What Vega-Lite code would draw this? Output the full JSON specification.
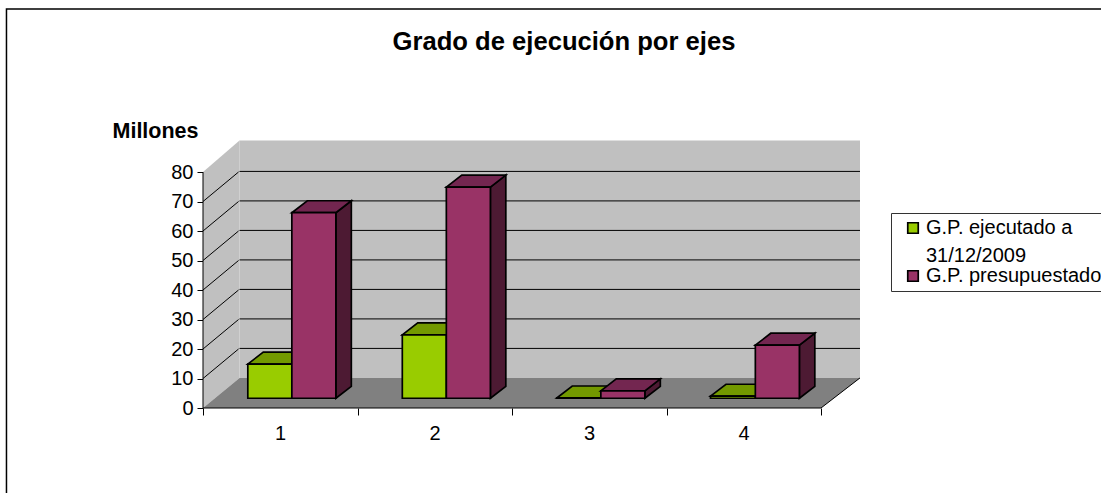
{
"$schema":"https://vega.github.io/schema/vega-lite/v6.json",
"width":657,"height":268,
"autosize":{"type":"none"},
"padding":{"left":203,"top":140,"right":241,"bottom":85},
"background":"white",
"view":{"stroke":null},
"title":{"text":"Grado de ejecución por ejes","font":"Liberation Sans","fontSize":25.6,"fontWeight":"bold","color":"black","anchor":"middle","frame":"group","dx":32.5,"offset":-47},
"datasets":{
"marco":[{"x":-0.772,"x2":7,"y":135.25,"y2":-60}],
"paredes":[
{"id":"fondo","x":0.7362,"y":10.2,"y2":90.7},{"id":"fondo","x":4.7524,"y":10.2,"y2":90.7},
{"id":"lateral","x":0.5,"y":0,"y2":80},{"id":"lateral","x":0.7362,"y":10.2,"y2":90.7}],
"suelo":[{"x":0.5,"y":0,"y2":0},{"x":0.7362,"y":0,"y2":10.2},{"x":4.5,"y":0,"y2":10.2},{"x":4.7524,"y":10.2,"y2":10.2}],
"lineas":[
{"id":"f70","x":0.7362,"y":80.2},{"id":"f70","x":4.7524,"y":80.2},
{"id":"f60","x":0.7362,"y":70.2},{"id":"f60","x":4.7524,"y":70.2},
{"id":"f50","x":0.7362,"y":60.2},{"id":"f50","x":4.7524,"y":60.2},
{"id":"f40","x":0.7362,"y":50.2},{"id":"f40","x":4.7524,"y":50.2},
{"id":"f30","x":0.7362,"y":40.2},{"id":"f30","x":4.7524,"y":40.2},
{"id":"f20","x":0.7362,"y":30.2},{"id":"f20","x":4.7524,"y":30.2},
{"id":"f10","x":0.7362,"y":20.2},{"id":"f10","x":4.7524,"y":20.2},
{"id":"d70","x":0.5,"y":70},{"id":"d70","x":0.73,"y":80},
{"id":"d60","x":0.5,"y":60},{"id":"d60","x":0.73,"y":70},
{"id":"d50","x":0.5,"y":50},{"id":"d50","x":0.73,"y":60},
{"id":"d40","x":0.5,"y":40},{"id":"d40","x":0.73,"y":50},
{"id":"d30","x":0.5,"y":30},{"id":"d30","x":0.73,"y":40},
{"id":"d20","x":0.5,"y":20},{"id":"d20","x":0.73,"y":30},
{"id":"d10","x":0.5,"y":10},{"id":"d10","x":0.73,"y":20},
{"id":"eje","x":0.5,"y":0},{"id":"eje","x":0.5,"y":80},
{"id":"base","x":0.5,"y":0},{"id":"base","x":4.5,"y":0},
{"id":"borde","x":4.5,"y":0},{"id":"borde","x":4.7524,"y":10.2}],
"verdeSup":[
{"id":1,"x":0.79,"y":14.9,"y2":14.9},{"id":1,"x":0.89,"y":14.9,"y2":18.95},{"id":1,"x":1.075,"y":14.9,"y2":18.95},{"id":1,"x":1.175,"y":18.95,"y2":18.95},
{"id":2,"x":1.79,"y":24.8,"y2":24.8},{"id":2,"x":1.89,"y":24.8,"y2":28.85},{"id":2,"x":2.075,"y":24.8,"y2":28.85},{"id":2,"x":2.175,"y":28.85,"y2":28.85},
{"id":3,"x":2.79,"y":3.4,"y2":3.4},{"id":3,"x":2.89,"y":3.4,"y2":7.45},{"id":3,"x":3.075,"y":3.4,"y2":7.45},{"id":3,"x":3.175,"y":7.45,"y2":7.45},
{"id":4,"x":3.785,"y":4.0,"y2":4.0},{"id":4,"x":3.885,"y":4.0,"y2":8.05},{"id":4,"x":4.075,"y":4.0,"y2":8.05},{"id":4,"x":4.175,"y":8.05,"y2":8.05}],
"moradoSup":[
{"id":1,"x":1.075,"y":66.2,"y2":66.2},{"id":1,"x":1.175,"y":66.2,"y2":70.25},{"id":1,"x":1.36,"y":66.2,"y2":70.25},{"id":1,"x":1.46,"y":70.25,"y2":70.25},
{"id":2,"x":2.075,"y":74.9,"y2":74.9},{"id":2,"x":2.175,"y":74.9,"y2":78.95},{"id":2,"x":2.36,"y":74.9,"y2":78.95},{"id":2,"x":2.46,"y":78.95,"y2":78.95},
{"id":3,"x":3.075,"y":5.8,"y2":5.8},{"id":3,"x":3.175,"y":5.8,"y2":9.85},{"id":3,"x":3.36,"y":5.8,"y2":9.85},{"id":3,"x":3.46,"y":9.85,"y2":9.85},
{"id":4,"x":4.075,"y":21.3,"y2":21.3},{"id":4,"x":4.175,"y":21.3,"y2":25.35},{"id":4,"x":4.36,"y":21.3,"y2":25.35},{"id":4,"x":4.46,"y":25.35,"y2":25.35}],
"moradoLat":[
{"id":1,"x":1.36,"y":3.3,"y2":66.2},{"id":1,"x":1.46,"y":7.35,"y2":70.25},
{"id":2,"x":2.36,"y":3.3,"y2":74.9},{"id":2,"x":2.46,"y":7.35,"y2":78.95},
{"id":3,"x":3.36,"y":3.3,"y2":5.8},{"id":3,"x":3.46,"y":7.35,"y2":9.85},
{"id":4,"x":4.36,"y":3.3,"y2":21.3},{"id":4,"x":4.46,"y":7.35,"y2":25.35}],
"barras":[
{"eje":1,"serie":"G.P. ejecutado a 31/12/2009","valor":11.6,"x":0.79,"x2":1.075,"y":14.9,"y2":3.3},
{"eje":1,"serie":"G.P. presupuestado","valor":62.9,"x":1.075,"x2":1.36,"y":66.2,"y2":3.3},
{"eje":2,"serie":"G.P. ejecutado a 31/12/2009","valor":21.5,"x":1.79,"x2":2.075,"y":24.8,"y2":3.3},
{"eje":2,"serie":"G.P. presupuestado","valor":71.6,"x":2.075,"x2":2.36,"y":74.9,"y2":3.3},
{"eje":3,"serie":"G.P. ejecutado a 31/12/2009","valor":0.1,"x":2.79,"x2":3.075,"y":3.4,"y2":3.3},
{"eje":3,"serie":"G.P. presupuestado","valor":2.5,"x":3.075,"x2":3.36,"y":5.8,"y2":3.3},
{"eje":4,"serie":"G.P. ejecutado a 31/12/2009","valor":0.7,"x":3.785,"x2":4.075,"y":4.0,"y2":3.3},
{"eje":4,"serie":"G.P. presupuestado","valor":18,"x":4.075,"x2":4.36,"y":21.3,"y2":3.3}]
},
"encoding":{
"x":{"field":"x","type":"quantitative","scale":{"domain":[0.5,4.7524],"nice":false,"zero":false},
"axis":{"values":[0.5,1.5,2.5,3.5,4.5],"labelExpr":"datum.value < 4.5 ? datum.value + 0.5 : ''","labelOffset":77,"labelFlush":false,"labelBound":false,"labelOverlap":false,"grid":false,"domain":false,"title":null,"tickColor":"black","tickSize":7,"labelColor":"black","labelFont":"Liberation Sans","labelFontSize":20,"labelPadding":8}},
"y":{"field":"y","type":"quantitative","scale":{"domain":[0,90.85],"nice":false,"zero":false},
"axis":{"values":[0,10,20,30,40,50,60,70,80],"grid":false,"domain":false,"title":"Millones","titleAngle":0,"titleX":-48,"titleY":-9,"titleAlign":"center","titleBaseline":"middle","titleFont":"Liberation Sans","titleFontSize":21.5,"titleFontWeight":"bold","titleColor":"black","tickColor":"black","tickSize":6,"labelColor":"black","labelFont":"Liberation Sans","labelFontSize":20,"labelPadding":4}}
},
"layer":[
{"data":{"name":"marco"},"mark":{"type":"rect","fill":null,"stroke":"black","strokeWidth":1.5},"encoding":{"x2":{"field":"x2"},"y2":{"field":"y2"}}},
{"data":{"name":"paredes"},"mark":{"type":"area","fill":"#C0C0C0","opacity":1},"encoding":{"detail":{"field":"id"},"y2":{"field":"y2"}}},
{"data":{"name":"suelo"},"mark":{"type":"area","fill":"#808080","opacity":1},"encoding":{"y2":{"field":"y2"}}},
{"data":{"name":"lineas"},"mark":{"type":"line","stroke":"black","strokeWidth":1},"encoding":{"detail":{"field":"id"}}},
{"data":{"name":"verdeSup"},"mark":{"type":"area","fill":"#739900","opacity":1,"stroke":"black","strokeWidth":1.7},"encoding":{"detail":{"field":"id"},"y2":{"field":"y2"}}},
{"data":{"name":"moradoLat"},"mark":{"type":"area","fill":"#4D1A33","opacity":1,"stroke":"black","strokeWidth":1.7},"encoding":{"detail":{"field":"id"},"y2":{"field":"y2"}}},
{"data":{"name":"moradoSup"},"mark":{"type":"area","fill":"#732650","opacity":1,"stroke":"black","strokeWidth":1.7},"encoding":{"detail":{"field":"id"},"y2":{"field":"y2"}}},
{"data":{"name":"barras"},"mark":{"type":"rect","stroke":"black","strokeWidth":1.7,"opacity":1},
"encoding":{"x2":{"field":"x2"},"y2":{"field":"y2"},
"fill":{"field":"serie","type":"nominal","scale":{"domain":["G.P. ejecutado a 31/12/2009","G.P. presupuestado"],"range":["#99CC00","#993366"]},
"legend":{"orient":"none","legendX":688,"legendY":73,"title":null,"padding":5,"strokeColor":"#333333","fillColor":"white","symbolType":"square","symbolSize":110,"symbolStrokeColor":"black","symbolStrokeWidth":1.7,"symbolOpacity":1,"symbolOffset":7,"labelFont":"Liberation Sans","labelFontSize":20,"labelColor":"black","labelLimit":400,"labelOffset":3,"rowPadding":0,
"labelExpr":"datum.label == 'G.P. presupuestado' ? datum.label : ['G.P. ejecutado a','31/12/2009']",
"encoding":{"labels":{"lineHeight":{"value":28}}}}}}}
]
}
